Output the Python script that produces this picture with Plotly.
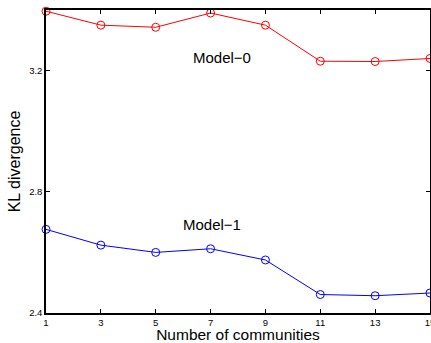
import plotly.graph_objects as go

communities = [1, 3, 5, 7, 9, 11, 13, 15]
model0 = [3.396, 3.350, 3.343, 3.390, 3.350, 3.231, 3.230, 3.240]
model1 = [2.676, 2.624, 2.600, 2.612, 2.575, 2.461, 2.457, 2.466]
y_ticks = [2.4, 2.8, 3.2]
x_ticks = communities

FONT = "Liberation Sans, Arial"

fig = go.Figure()
fig.add_trace(go.Scatter(x=communities, y=model0, mode="lines+markers",
                         line=dict(color="#ff0000", width=1),
                         marker=dict(symbol="circle-open", size=8, color="#ff0000", line=dict(width=1)),
                         cliponaxis=False, showlegend=False))
fig.add_trace(go.Scatter(x=communities, y=model1, mode="lines+markers",
                         line=dict(color="#0000ff", width=1),
                         marker=dict(symbol="circle-open", size=8, color="#0000ff", line=dict(width=1)),
                         cliponaxis=False, showlegend=False))

fig.add_annotation(x=7.4, y=3.243, text="Model\u22120", showarrow=False,
                   font=dict(family=FONT, size=15, color="black"))
fig.add_annotation(x=7.05, y=2.692, text="Model\u22121", showarrow=False,
                   font=dict(family=FONT, size=15, color="black"))

axis_common = dict(showgrid=False, zeroline=False, showline=True, linecolor="black",
                   linewidth=1.5, mirror="ticks", ticks="inside", ticklen=4, automargin=False,
                   ticklabeloverflow="allow",
                   tickcolor="black", tickfont=dict(family=FONT, size=9.5, color="black"))

fig.update_xaxes(range=[1, 15], tickvals=x_ticks,
                 title=dict(text="Number of communities", standoff=0,
                            font=dict(family=FONT, size=15.5, color="black")),
                 **axis_common)
fig.update_yaxes(range=[2.4, 3.4], tickvals=y_ticks, ticktext=["2.4", "2.8", "3.2"],
                 title=dict(text="KL divergence", standoff=5,
                            font=dict(family=FONT, size=16, color="black")),
                 **axis_common)

fig.update_layout(width=431, height=343, margin=dict(l=46, r=1, t=10, b=30),
                  plot_bgcolor="white", paper_bgcolor="white")

fig.write_html("out.html", config={"displayModeBar": False},
               post_script="document.body.style.margin='0';document.body.style.overflow='hidden';")
